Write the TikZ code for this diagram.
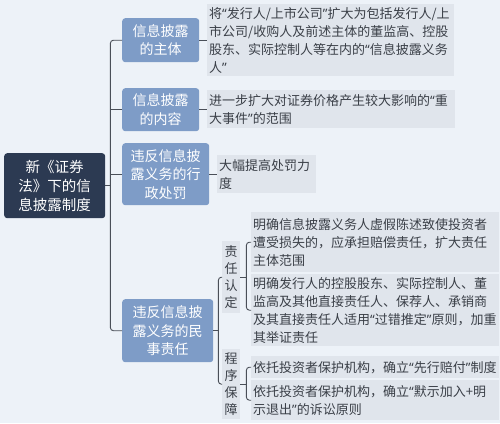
\documentclass[tikz,border=0pt]{standalone}
\usepackage{fontspec}
\usetikzlibrary{calc}
\setmainfont{Noto Sans CJK SC}
\newfontfamily\qfont{Noto Sans}
\newcommand\myql{{\qfont “}}
\newcommand\myqr{{\qfont ”}}
\definecolor{bgc}{HTML}{EDF2F8}
\definecolor{rootc}{HTML}{2C3A52}
\definecolor{lvc}{HTML}{7E9CC7}
\definecolor{leafc}{HTML}{E0E5EC}
\definecolor{txtc}{HTML}{3A3F47}
\definecolor{linec}{HTML}{4A4F58}
\tikzset{
  rootbox/.style={fill=rootc, text=white, rounded corners=3pt, anchor=north west,
    align=center, inner sep=0pt, font=\fontsize{14.5}{19}\selectfont},
  lvbox/.style={fill=lvc, text=white, rounded corners=3pt, anchor=north west,
    align=center, inner sep=0pt, font=\fontsize{14}{18.5}\selectfont},
  leafbox/.style={fill=leafc, text=txtc, anchor=north west, align=left,
    inner xsep=2pt, inner ysep=0pt, font=\fontsize{13}{18}\selectfont},
  vbox/.style={fill=leafc, text=txtc, anchor=north west, align=center,
    inner sep=0pt, minimum width=18pt, font=\fontsize{13}{17}\selectfont},
  conn/.style={draw=linec, line width=0.9pt},
}
\begin{document}
\begin{tikzpicture}[x=1pt,y=-1pt]
\useasboundingbox (0,0) rectangle (500,423);
\fill[bgc] (0,0) rectangle (500,423);

% root
\node[rootbox, minimum width=101pt, minimum height=65pt] (root) at (4,153)
  {新《证券\\法》下的信\\息披露制度};

% level 1
\node[lvbox, minimum width=77pt, minimum height=44pt] (b1) at (122,18) {信息披露\\的主体};
\node[lvbox, minimum width=77pt, minimum height=43pt] (b2) at (122,88) {信息披露\\的内容};
\node[lvbox, minimum width=87pt, minimum height=62pt] (b3) at (122,143) {违反信息披\\露义务的行\\政处罚};
\node[lvbox, minimum width=91pt, minimum height=63pt] (b4) at (122,299) {违反信息披\\露义务的民\\事责任};

% leaves
\node[leafbox, text width=243pt, minimum height=72pt] (l1) at (207,4)
  {将\myql 发行人/上市公司\myqr 扩大为包括发行人/上\\市公司/收购人及前述主体的董监高、控股\\股东、实际控制人等在内的\myql 信息披露义务\\人\myqr};
\node[leafbox, text width=244pt, minimum height=38pt] (l2) at (207,90)
  {进一步扩大对证券价格产生较大影响的\myql 重\\大事件\myqr 的范围};
\node[leafbox, text width=95pt, minimum height=38pt] (l3) at (217,155)
  {大幅提高处罚力\\度};

% sub-categories
\node[vbox, minimum height=72pt] (zr) at (222,241) {责\\任\\认\\定};
\node[vbox, minimum height=70pt] (cx) at (222,349) {程\\序\\保\\障};

\node[leafbox, text width=244pt, minimum height=60pt] (l4a) at (251,212)
  {明确信息披露义务人虚假陈述致使投资者\\遭受损失的，应承担赔偿责任，扩大责任\\主体范围};
\node[leafbox, text width=244pt, minimum height=72pt] (l4b) at (251,274)
  {明确发行人的控股股东、实际控制人、董\\监高及其他直接责任人、保荐人、承销商\\及其直接责任人适用\myql 过错推定\myqr 原则，加重\\其举证责任};
\node[leafbox, text width=244pt, minimum height=22pt] (l5a) at (251,356)
  {依托投资者保护机构，确立\myql 先行赔付\myqr 制度};
\node[leafbox, text width=244pt, minimum height=40pt] (l5b) at (251,380)
  {依托投资者保护机构，确立\myql 默示加入+明\\示退出\myqr 的诉讼原则};

% connectors
\coordinate (tr) at ($(root.east)+(5,0)$);
\draw[conn] (root.east) -- (tr);
\draw[conn, rounded corners=3pt] (b1.west) -| (tr) |- (b4.west);
\draw[conn] (b2.west) -- (b2.west -| tr);
\draw[conn] (b3.west) -- (b3.west -| tr);
\draw[conn] (b1.east) -- (l1.west |- b1.east);
\draw[conn] (b2.east) -- (l2.west |- b2.east);
\draw[conn] (b3.east) -- (l3.west |- b3.east);

\coordinate (br1) at ($(b4.east)+(5,0)$);
\draw[conn] (b4.east) -- (br1);
\draw[conn, rounded corners=3pt] (zr.west) -| (br1) |- (cx.west);

\coordinate (br2) at ($(zr.east)+(6,0)$);
\draw[conn] (zr.east) -- (br2);
\draw[conn, rounded corners=3pt] (l4a.west) -| (br2) |- (l4b.west);

\coordinate (br3) at ($(cx.east)+(6,0)$);
\draw[conn] (cx.east) -- (br3);
\draw[conn, rounded corners=3pt] (l5a.west) -| (br3) |- (l5b.west);
\end{tikzpicture}
\end{document}
